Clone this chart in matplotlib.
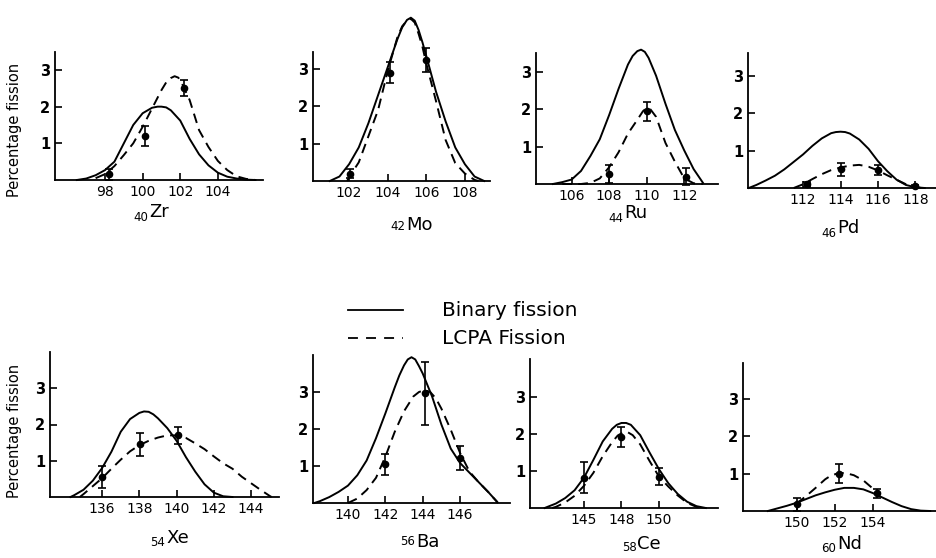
import matplotlib
matplotlib.use("Agg")
import matplotlib.pyplot as plt
from matplotlib.lines import Line2D

# ---------------- data ----------------
# 40Zr
zr_bin_x = [96.5, 97.0, 97.5, 98.0, 98.5, 99.0, 99.5, 100.0, 100.5, 100.8, 101.0, 101.25, 101.5, 102.0, 102.5, 103.0, 103.5, 104.0, 104.5, 105.0, 105.5, 106.0]
zr_bin_y = [0.0, 0.04, 0.13, 0.27, 0.5, 1.0, 1.5, 1.82, 1.97, 2.0, 2.0, 1.98, 1.9, 1.62, 1.12, 0.7, 0.4, 0.2, 0.09, 0.04, 0.01, 0.0]
zr_lcpa_x = [97.5, 98.0, 98.5, 99.0, 99.5, 100.0, 100.5, 101.0, 101.25, 101.5, 101.7, 101.9, 102.1, 102.5, 103.0, 103.5, 104.0, 104.5, 105.0, 105.5, 106.0]
zr_lcpa_y = [0.05, 0.16, 0.38, 0.68, 1.0, 1.45, 1.95, 2.45, 2.66, 2.78, 2.83, 2.79, 2.62, 2.18, 1.36, 0.9, 0.52, 0.27, 0.1, 0.03, 0.0]
zr_exp_x = [98.2, 100.1, 102.2]
zr_exp_y = [0.15, 1.2, 2.5]
zr_exp_err = [0.15, 0.27, 0.22]

# 42Mo
mo_bin_x = [101.0, 101.5, 102.0, 102.5, 103.0, 103.5, 104.0, 104.5, 104.75, 105.0, 105.2, 105.4, 105.6, 105.8, 106.0, 106.5, 107.0, 107.5, 108.0, 108.5, 109.0]
mo_bin_y = [0.0, 0.12, 0.45, 0.9, 1.55, 2.3, 3.05, 3.8, 4.12, 4.32, 4.38, 4.3, 4.05, 3.72, 3.35, 2.4, 1.6, 0.9, 0.45, 0.12, 0.0]
mo_lcpa_x = [101.9, 102.0, 102.5, 103.0, 103.5, 104.0, 104.5, 104.75, 105.0, 105.2, 105.4, 105.6, 105.8, 106.0, 106.5, 107.0, 107.5, 108.0, 108.5, 108.7]
mo_lcpa_y = [0.0, 0.1, 0.5, 1.2, 1.9, 2.95, 3.85, 4.15, 4.3, 4.35, 4.25, 3.95, 3.6, 3.15, 2.15, 1.1, 0.48, 0.2, 0.03, 0.0]
mo_exp_x = [102.05, 104.1, 106.0]
mo_exp_y = [0.2, 2.9, 3.25]
mo_exp_err = [0.12, 0.28, 0.32]

# 44Ru
ru_bin_x = [105.0, 105.5, 106.0, 106.5, 107.0, 107.5, 108.0, 108.5, 109.0, 109.25, 109.5, 109.7, 109.9, 110.1, 110.5, 111.0, 111.5, 112.0, 112.5, 113.0]
ru_bin_y = [0.0, 0.05, 0.12, 0.35, 0.75, 1.2, 1.85, 2.55, 3.2, 3.43, 3.56, 3.6, 3.54, 3.38, 2.9, 2.15, 1.45, 0.9, 0.4, 0.03]
ru_lcpa_x = [105.5, 106.5, 107.0, 107.5, 108.0, 108.5, 109.0, 109.5, 109.8, 110.0, 110.2, 110.5, 111.0, 111.5, 112.0, 112.5, 113.0]
ru_lcpa_y = [0.0, 0.0, 0.03, 0.15, 0.45, 0.85, 1.35, 1.72, 1.95, 2.04, 2.0, 1.8, 1.1, 0.6, 0.15, 0.02, 0.0]
ru_exp_x = [108.0, 110.0, 112.1]
ru_exp_y = [0.27, 1.95, 0.2]
ru_exp_err = [0.24, 0.25, 0.22]

# 46Pd
pd_bin_x = [109.1, 109.5, 110.0, 110.5, 111.0, 111.5, 112.0, 112.5, 113.0, 113.5, 113.75, 114.0, 114.25, 114.5, 115.0, 115.5, 116.0, 116.5, 117.0, 117.5, 118.0, 118.5]
pd_bin_y = [0.0, 0.08, 0.2, 0.33, 0.5, 0.7, 0.9, 1.13, 1.33, 1.47, 1.5, 1.51, 1.5, 1.46, 1.3, 1.05, 0.72, 0.45, 0.22, 0.08, 0.02, 0.0]
pd_lcpa_x = [111.5, 112.0, 112.5, 113.0, 113.5, 114.0, 114.5, 115.0, 115.5, 116.0, 116.5, 117.0, 117.5, 118.0, 118.3]
pd_lcpa_y = [0.0, 0.1, 0.24, 0.37, 0.48, 0.55, 0.6, 0.62, 0.57, 0.47, 0.34, 0.22, 0.1, 0.03, 0.0]
pd_exp_x = [112.2, 114.0, 116.0, 118.0]
pd_exp_y = [0.1, 0.5, 0.48, 0.05]
pd_exp_err = [0.06, 0.17, 0.13, 0.03]

# 54Xe
xe_bin_x = [134.3, 134.5, 135.0, 135.5, 136.0, 136.5, 137.0, 137.5, 138.0, 138.25, 138.5, 138.75, 139.0, 139.5, 140.0, 140.5, 141.0, 141.5, 142.0, 142.5, 143.0]
xe_bin_y = [0.0, 0.05, 0.2, 0.45, 0.8, 1.25, 1.8, 2.15, 2.32, 2.36, 2.35, 2.28, 2.17, 1.9, 1.55, 1.1, 0.7, 0.35, 0.12, 0.02, 0.0]
xe_lcpa_x = [134.8, 135.0, 135.5, 136.0, 136.5, 137.0, 137.5, 138.0, 138.5, 139.0, 139.5, 140.0, 140.5, 141.0, 141.5, 142.0, 142.5, 143.0, 143.5, 144.0, 144.5, 145.0, 145.1]
xe_lcpa_y = [0.0, 0.08, 0.3, 0.52, 0.78, 1.03, 1.26, 1.43, 1.55, 1.64, 1.7, 1.7, 1.63, 1.48, 1.32, 1.12, 0.93, 0.78, 0.56, 0.38, 0.2, 0.03, 0.0]
xe_exp_x = [136.0, 138.05, 140.1]
xe_exp_y = [0.55, 1.45, 1.7]
xe_exp_err = [0.3, 0.32, 0.23]

# 56Ba
ba_bin_x = [138.2, 138.5, 139.0, 139.5, 140.0, 140.5, 141.0, 141.5, 142.0, 142.5, 142.75, 143.0, 143.2, 143.4, 143.6, 143.8, 144.0, 144.5, 145.0, 145.5, 146.0, 146.5, 147.0, 147.5, 148.0]
ba_bin_y = [0.0, 0.05, 0.16, 0.3, 0.47, 0.75, 1.15, 1.75, 2.42, 3.12, 3.45, 3.72, 3.88, 3.94, 3.88, 3.7, 3.5, 2.88, 2.12, 1.47, 1.08, 0.82, 0.56, 0.3, 0.02]
ba_lcpa_x = [140.0, 140.5, 141.0, 141.5, 142.0, 142.5, 143.0, 143.5, 143.8, 144.1, 144.4, 144.7, 145.0, 145.5, 146.0, 146.5, 147.0, 147.5, 148.0]
ba_lcpa_y = [0.0, 0.12, 0.35, 0.68, 1.25, 1.92, 2.48, 2.88, 3.0, 3.05, 3.0, 2.83, 2.55, 1.98, 1.35, 0.85, 0.56, 0.3, 0.02]
ba_exp_x = [142.0, 144.1, 146.0]
ba_exp_y = [1.05, 2.97, 1.22]
ba_exp_err = [0.28, 0.85, 0.33]

# 58Ce
ce_bin_x = [143.9, 144.5, 145.0, 145.5, 146.0, 146.5, 147.0, 147.5, 147.75, 148.0, 148.25, 148.5, 149.0, 149.5, 150.0, 150.5, 151.0, 151.5, 152.0, 152.5]
ce_bin_y = [0.0, 0.12, 0.27, 0.48, 0.82, 1.3, 1.8, 2.14, 2.25, 2.3, 2.3, 2.25, 1.97, 1.5, 1.05, 0.67, 0.38, 0.17, 0.05, 0.0]
ce_lcpa_x = [144.3, 144.5, 145.0, 145.5, 146.0, 146.5, 147.0, 147.5, 147.8, 148.1, 148.3, 148.6, 149.0, 149.5, 150.0, 150.5, 151.0, 151.5, 152.0, 152.3]
ce_lcpa_y = [0.0, 0.03, 0.15, 0.33, 0.6, 0.95, 1.4, 1.78, 1.96, 2.05, 2.06, 1.97, 1.72, 1.27, 0.85, 0.58, 0.34, 0.14, 0.03, 0.0]
ce_exp_x = [146.0, 148.0, 150.0]
ce_exp_y = [0.82, 1.93, 0.85]
ce_exp_err = [0.42, 0.27, 0.23]

# 60Nd
nd_bin_x = [148.5, 149.0, 149.5, 150.0, 150.5, 151.0, 151.5, 152.0, 152.5, 153.0, 153.5, 154.0, 154.5, 155.0, 155.5, 156.0, 156.5, 157.0]
nd_bin_y = [0.0, 0.07, 0.14, 0.22, 0.32, 0.42, 0.5, 0.57, 0.62, 0.62, 0.58, 0.48, 0.36, 0.24, 0.13, 0.05, 0.01, 0.0]
nd_lcpa_x = [150.0, 150.5, 151.0, 151.5, 151.8, 152.1, 152.4, 152.7, 153.0, 153.5, 154.0, 154.3]
nd_lcpa_y = [0.2, 0.4, 0.62, 0.85, 0.95, 1.0, 1.02, 1.0, 0.96, 0.82, 0.6, 0.45]
nd_exp_x = [150.0, 152.2, 154.2]
nd_exp_y = [0.18, 1.0, 0.48]
nd_exp_err = [0.17, 0.25, 0.12]

# tick labels
zr_ticks = [98, 100, 102, 104]
mo_ticks = [102, 104, 106, 108]
ru_ticks = [106, 108, 110, 112]
pd_ticks = [112, 114, 116, 118]
xe_ticks = [136, 138, 140, 142, 144]
ba_ticks = [140, 142, 144, 146]
ce_ticks = [146, 148, 150]
nd_ticks = [150, 152, 154]
zr_ticklabels = ["98", "100", "102", "104"]
mo_ticklabels = ["102", "104", "106", "108"]
ru_ticklabels = ["106", "108", "110", "112"]
pd_ticklabels = ["112", "114", "116", "118"]
xe_ticklabels = ["136", "138", "140", "142", "144"]
ba_ticklabels = ["140", "142", "144", "146"]
ce_ticklabels = ["145", "148", "150"]
nd_ticklabels = ["150", "152", "154"]
y_ticks = [1, 2, 3]
y_ticklabels = ["1", "2", "3"]

element_Z = ["40", "42", "44", "46", "54", "56", "58", "60"]
element_sym = ["Zr", "Mo", "Ru", "Pd", "Xe", "Ba", "Ce", "Nd"]
legend_labels = ["Binary fission", "LCPA Fission"]
ylabel_text = "Percentage fission"

# ---------------- layout (pixels in a 936x558 canvas) ----------------
W, H = 936, 558
# x0, x1, y_bottom, y_top, xlim_lo, xlim_hi, ylim_hi
layout = [
    (55, 263, 180, 52, 95.34, 106.4, 3.49),
    (313, 490, 181, 52, 100.13, 109.3, 3.46),
    (536, 718, 184, 53, 104.1, 113.8, 3.51),
    (748, 936, 188, 53, 109.06, 119.1, 3.62),
    (50, 279, 497, 352, 133.2, 145.5, 4.0),
    (313, 510, 503, 355, 138.13, 148.67, 4.0),
    (530, 718, 508, 359, 143.12, 153.15, 4.03),
    (743, 936, 511, 363, 147.2, 157.3, 3.97),
]
# symbol left x, symbol baseline y, subscript right x, subscript baseline y
label_pos = [
    (149, 217, 148, 221),
    (406, 230, 405, 230),
    (624, 218, 623, 222),
    (837, 233, 836, 237),
    (166, 543, 165, 546),
    (416, 547, 415, 545),
    (637, 549, 637, 551),
    (837, 549, 836, 552),
]

panels = [
    (zr_bin_x, zr_bin_y, zr_lcpa_x, zr_lcpa_y, zr_exp_x, zr_exp_y, zr_exp_err, zr_ticks, zr_ticklabels),
    (mo_bin_x, mo_bin_y, mo_lcpa_x, mo_lcpa_y, mo_exp_x, mo_exp_y, mo_exp_err, mo_ticks, mo_ticklabels),
    (ru_bin_x, ru_bin_y, ru_lcpa_x, ru_lcpa_y, ru_exp_x, ru_exp_y, ru_exp_err, ru_ticks, ru_ticklabels),
    (pd_bin_x, pd_bin_y, pd_lcpa_x, pd_lcpa_y, pd_exp_x, pd_exp_y, pd_exp_err, pd_ticks, pd_ticklabels),
    (xe_bin_x, xe_bin_y, xe_lcpa_x, xe_lcpa_y, xe_exp_x, xe_exp_y, xe_exp_err, xe_ticks, xe_ticklabels),
    (ba_bin_x, ba_bin_y, ba_lcpa_x, ba_lcpa_y, ba_exp_x, ba_exp_y, ba_exp_err, ba_ticks, ba_ticklabels),
    (ce_bin_x, ce_bin_y, ce_lcpa_x, ce_lcpa_y, ce_exp_x, ce_exp_y, ce_exp_err, ce_ticks, ce_ticklabels),
    (nd_bin_x, nd_bin_y, nd_lcpa_x, nd_lcpa_y, nd_exp_x, nd_exp_y, nd_exp_err, nd_ticks, nd_ticklabels),
]

plt.rcParams['font.family'] = ['DejaVu Sans']
fig = plt.figure(figsize=(W / 100, H / 100), dpi=100)
fig.patch.set_facecolor('white')

LW = 1.4
DASH = (0, (5, 3.2))
tick_font = dict(family='DejaVu Sans', size=10)

for (x0, x1, yb, yt, xl, xh, yh), (bx, by, lx, ly, ex, ey, ee, tk, tl) in zip(layout, panels):
    ax = fig.add_axes([x0 / W, 1 - yb / H, (x1 - x0) / W, (yb - yt) / H])
    ax.set_xlim(xl, xh)
    ax.set_ylim(0, yh)
    ax.patch.set_alpha(0)
    for s in ('top', 'right'):
        ax.spines[s].set_visible(False)
    for s in ('left', 'bottom'):
        ax.spines[s].set_linewidth(1.3)
        ax.spines[s].set_color('black')
    ax.plot(bx, by, color='black', lw=LW, solid_joinstyle='round', clip_on=False, zorder=3)
    ax.plot(lx, ly, color='black', lw=LW, linestyle=DASH, clip_on=False, zorder=3)
    ax.errorbar(ex, ey, yerr=ee, fmt='o', color='black', ms=4.5, elinewidth=1.2,
                capsize=3, capthick=1.2, clip_on=False, zorder=4)
    ax.set_xticks(tk)
    ax.set_xticklabels(tl, fontdict=tick_font)
    ax.set_yticks(y_ticks)
    ax.set_yticklabels(y_ticklabels, fontdict=dict(family='DejaVu Sans', size=10.5, weight='bold'))
    ax.tick_params(axis='both', direction='in', length=5, width=1.2, pad=3.5, colors='black')

for (sx, sby, zx, zby), z, sym in zip(label_pos, element_Z, element_sym):
    fig.text(sx / W, 1 - sby / H, sym, fontsize=13, ha='left', va='baseline', family='DejaVu Sans')
    fig.text(zx / W, 1 - zby / H, z, fontsize=8.5, ha='right', va='baseline', family='DejaVu Sans')

# y-axis labels
fig.text(15 / W, 1 - 130 / H, ylabel_text, rotation=90, ha='center', va='center', fontsize=10.5)
fig.text(15 / W, 1 - 431 / H, ylabel_text, rotation=90, ha='center', va='center', fontsize=10.5)

# legend
fig.add_artist(Line2D([348 / W, 403 / W], [1 - 310 / H, 1 - 310 / H], color='black', lw=1.3,
                      transform=fig.transFigure))
fig.add_artist(Line2D([348 / W, 403 / W], [1 - 338 / H, 1 - 338 / H], color='black', lw=1.3,
                      linestyle=(0, (5.5, 4.5)), transform=fig.transFigure))
fig.text(442 / W, 1 - 310 / H, legend_labels[0], fontsize=14.5, ha='left', va='center')
fig.text(442 / W, 1 - 338 / H, legend_labels[1], fontsize=14.5, ha='left', va='center')

fig.savefig('out.png', dpi=100, facecolor='white')
